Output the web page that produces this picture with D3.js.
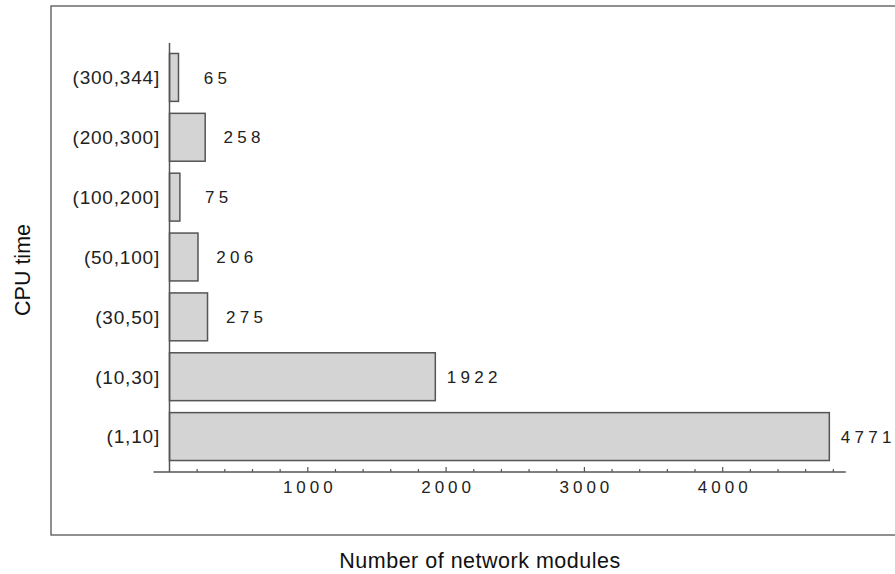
<!DOCTYPE html>
<html><head><meta charset="utf-8">
<script src="https://cdn.jsdelivr.net/npm/d3@7"></script>
<style>body{margin:0;background:#fff}svg{display:block}</style>
</head><body><svg id="c" width="895" height="574"></svg>
<script>
const categories = ["(300,344]","(200,300]","(100,200]","(50,100]","(30,50]","(10,30]","(1,10]"];
const values = [65, 258, 75, 206, 275, 1922, 4771];
const majorTicks = [1000, 2000, 3000, 4000];
const minorTicks = d3.range(200, 4801, 200).filter(v => v % 1000 !== 0);
const xTitle = "Number of network modules";
const yTitle = "CPU time";

const svg = d3.select("#c");
const font = "'Liberation Sans', Arial, Helvetica, sans-serif";
const stroke = "#555";

const x = d3.scaleLinear().domain([0, 5000]).range([169.5, 861]);
const y = d3.scaleBand().domain(categories).range([47.5, 466.5]).paddingInner(0.2).paddingOuter(0.1);

// frame
svg.append("rect").attr("x", 51).attr("y", 6).attr("width", 900).attr("height", 529)
  .attr("fill", "none").attr("stroke", stroke).attr("stroke-width", 1.3);

// bars
svg.selectAll("rect.bar").data(values).join("rect").attr("class","bar")
  .attr("x", x(0)).attr("y", (d,i) => y(categories[i]))
  .attr("width", d => x(d) - x(0)).attr("height", y.bandwidth())
  .attr("fill", "#d4d4d4").attr("stroke", stroke).attr("stroke-width", 1.5);

// value labels (centered a fixed distance past the bar end)
svg.selectAll("text.val").data(values).join("text").attr("class","val")
  .attr("x", d => x(d) + 39).attr("y", (d,i) => y(categories[i]) + y.bandwidth()/2)
  .attr("dy", "0.36em").attr("text-anchor", "middle").attr("font-family", font).attr("font-size", 17)
  .attr("letter-spacing", 4.3).attr("fill", "#222").text(d => d);

// category labels
svg.selectAll("text.cat").data(categories).join("text").attr("class","cat")
  .attr("x", 160).attr("y", d => y(d) + y.bandwidth()/2)
  .attr("dy", "0.36em").attr("text-anchor", "end").attr("font-family", font)
  .attr("font-size", 19).attr("letter-spacing", 0.8).attr("fill", "#222").text(d => d);

// y axis line
const axisY = 472;
svg.append("line").attr("x1", x(0)).attr("x2", x(0)).attr("y1", 43).attr("y2", axisY)
  .attr("stroke", stroke).attr("stroke-width", 1.5);
// x axis line
svg.append("line").attr("x1", x(0) - 16).attr("x2", x(4890)).attr("y1", axisY).attr("y2", axisY)
  .attr("stroke", stroke).attr("stroke-width", 1.5);
// ticks
svg.selectAll("line.minor").data(minorTicks).join("line").attr("class","minor")
  .attr("x1", d => x(d)).attr("x2", d => x(d)).attr("y1", axisY).attr("y2", axisY - 3)
  .attr("stroke", stroke).attr("stroke-width", 1.2);
svg.selectAll("line.major").data(majorTicks).join("line").attr("class","major")
  .attr("x1", d => x(d)).attr("x2", d => x(d)).attr("y1", axisY).attr("y2", axisY - 5)
  .attr("stroke", stroke).attr("stroke-width", 1.2);
svg.selectAll("text.tick").data(majorTicks).join("text").attr("class","tick")
  .attr("x", d => x(d) + 2).attr("y", 493).attr("text-anchor", "middle")
  .attr("font-family", font).attr("font-size", 17).attr("letter-spacing", 4)
  .attr("fill", "#222").text(d => d);

// titles
svg.append("text").attr("x", 480).attr("y", 568).attr("text-anchor", "middle")
  .attr("font-family", font).attr("font-size", 21.5).attr("letter-spacing", 0.5)
  .attr("fill", "#111").text(xTitle);
svg.append("text").attr("transform", "translate(30,270) rotate(-90)").attr("text-anchor", "middle")
  .attr("font-family", font).attr("font-size", 21.5).attr("fill", "#111").text(yTitle);
</script></body></html>
